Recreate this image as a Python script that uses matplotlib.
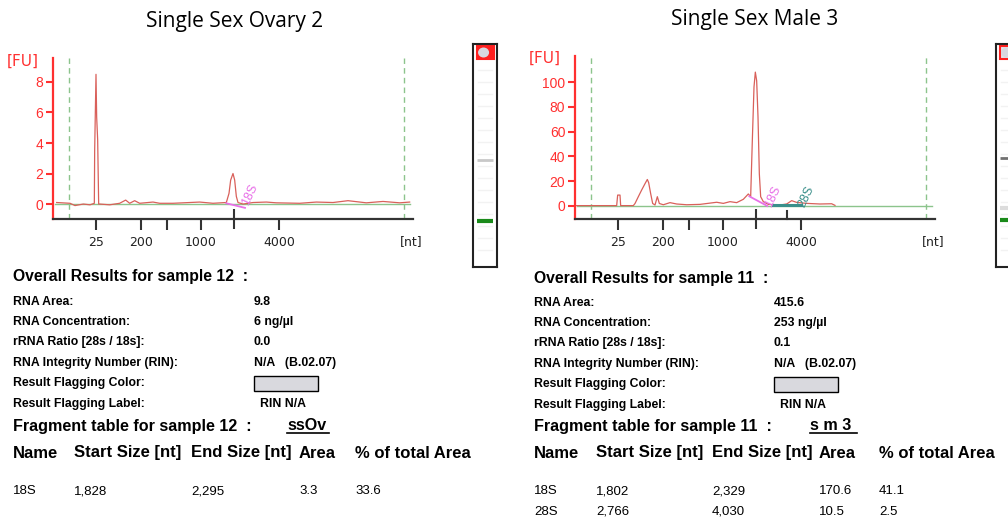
import matplotlib
matplotlib.use("Agg")
import matplotlib.pyplot as plt
from matplotlib.patches import Rectangle, Ellipse
from matplotlib.transforms import blended_transform_factory

plt.rcParams["font.family"] = ["Liberation Sans", "DejaVu Sans"]

# migration time [s] vs fluorescence [FU]
ovary_time = [17.55, 19.55, 20.3, 21.55, 22.55, 23.2, 23.25, 23.45, 23.55, 23.7, 23.85,
              24.0, 25.5, 27.0, 27.9, 28.5, 29.25, 30.0, 32.0, 33.0, 35.0, 37.5, 39.0,
              41.0, 43.0, 43.4, 43.65, 44.0, 44.25, 44.5, 44.75, 45.5, 47.0, 49.0, 50.5,
              54.0, 56.5, 59.0, 61.25, 64.0, 66.5, 69.0, 70.5]
ovary_fu = [0.1, 0.05, -0.1, 0.0, -0.05, 0.05, 3.5, 8.5, 5.7, 4.2, 0.0,
            0.0, -0.05, 0.05, 0.26, 0.05, 0.22, 0.05, 0.13, 0.05, 0.05, 0.1, 0.13,
            0.05, 0.1, 0.7, 1.57, 2.0, 1.57, 0.5, 0.1, 0.0, 0.1, 0.13, 0.08,
            0.05, 0.13, 0.1, 0.22, 0.08, 0.17, 0.08, 0.13]

male_time = [17.25, 23.25, 23.4, 23.75, 23.85, 25.75, 26.0, 26.5, 27.0, 27.5, 27.85,
             28.05, 28.35, 28.65, 29.0, 29.35, 29.65, 30.25, 31.25, 32.25, 33.75, 35.75,
             38.25, 39.25, 40.25, 41.25, 42.25, 43.0, 43.35, 43.6, 43.85, 44.05, 44.25,
             44.45, 44.65, 44.85, 45.25, 46.0, 47.75, 48.75, 49.5, 50.25, 51.75, 53.75,
             55.5, 56.0]
male_fu = [0.3, 0.3, 8.8, 8.8, 0.3, 0.3, 2.0, 7.5, 12.9, 18.0, 21.4,
           18.8, 10.0, 2.0, 0.8, 7.5, 2.0, 1.0, 2.7, 1.6, 1.0, 1.3,
           3.0, 2.1, 3.5, 2.7, 5.4, 9.7, 7.5, 53.0, 96.0, 108.0, 101.0,
           72.0, 26.0, 7.5, 3.5, 1.3, 0.8, 1.6, 4.3, 2.9, 2.1, 1.6,
           1.8, 0.5]

ladder_time = [23.5, 30.2, 34.1, 39.2, 50.9]
ladder_labels = ["25", "200", "", "1000", "4000"]
marker_window = [19.4, 69.65]

ovary_frag_names = ["18S"]
ovary_frag_time = [[43.0, 45.8]]
ovary_frag_fu = [[0.05, -0.25]]
male_frag_names = ["18S", "28S"]
male_frag_time = [[43.15, 45.85], [46.65, 50.9]]
male_frag_fu = [[7.8, 0.0], [1.0, 1.0]]

result_labels = ["RNA Area:", "RNA Concentration:", "rRNA Ratio [28s / 18s]:",
                 "RNA Integrity Number (RIN):", "Result Flagging Color:",
                 "Result Flagging Label:"]
ovary_results = ["9.8", "6 ng/µl", "0.0", "N/A   (B.02.07)", "", "RIN N/A"]
male_results = ["415.6", "253 ng/µl", "0.1", "N/A   (B.02.07)", "", "RIN N/A"]

table_header = ["Name", "Start Size [nt]", "End Size [nt]", "Area", "% of total Area"]
ovary_table = [["18S", "1,828", "2,295", "3.3", "33.6"]]
male_table = [["18S", "1,802", "2,329", "170.6", "41.1"],
              ["28S", "2,766", "4,030", "10.5", "2.5"]]

W, H = 1008, 522
fig = plt.figure(figsize=(W / 100, H / 100), dpi=100)

RED = "#ff3030"
TRACE = "#d9605a"
GREEN = "#8cc48c"
MAGENTA = "#e870e8"
TEAL = "#3a8f8a"
frag_colors = [MAGENTA, TEAL]


def ax_at(x0, y0, x1, y1):
    return fig.add_axes([x0 / W, 1 - y1 / H, (x1 - x0) / W, (y1 - y0) / H])


def t(x, y, s, **kw):
    fig.text(x / W, 1 - y / H, s, va="center", **kw)


def electropherogram(x0, y0, x1, y1, time, fu, ylim, yticks, frags_t, frags_fu,
                     frag_names, trace_end, extra_tick=None):
    ax = ax_at(x0, y0, x1, y1)
    ax.set_xlim(17, 71)
    ax.set_ylim(*ylim)
    ax.patch.set_alpha(0)
    for s in ["top", "right"]:
        ax.spines[s].set_visible(False)
    ax.spines["left"].set_color(RED)
    ax.spines["left"].set_linewidth(1.6)
    ax.spines["bottom"].set_color("#333333")
    ax.spines["bottom"].set_linewidth(1.6)
    ax.set_yticks(yticks)
    ax.tick_params(axis="y", colors=RED, labelsize=10, width=1.5, length=5, pad=2)
    ax.set_xticks(ladder_time)
    ax.set_xticklabels(ladder_labels, family=["DejaVu Sans"])
    ax.tick_params(axis="x", colors="#333333", labelcolor="#222222", labelsize=9,
                   width=1.5, length=8, pad=4)
    ax.set_xticks([44.2], minor=True)
    ax.tick_params(axis="x", which="minor", direction="inout", length=15, width=1.5,
                   colors="#333333")
    for xv in marker_window:
        ax.axvline(xv, color=GREEN, ls=(0, (4, 3)), lw=1.0)
    base = ylim[1] * 0.003
    ax.plot([17.3, trace_end], [base, base], color=GREEN, lw=1.0)
    ax.plot(time, fu, color=TRACE, lw=0.9)
    for i, name in enumerate(frag_names):
        ax.plot(frags_t[i], frags_fu[i], color=frag_colors[i], lw=1.3 if i == 0 else 2.2)
        ax.text(frags_t[i][1] + 0.8, (ylim[1] - ylim[0]) * 0.06, name,
                color=frag_colors[i], rotation=65, fontsize=9, ha="center", va="center")
    if extra_tick is not None:
        tr = blended_transform_factory(ax.transData, ax.transAxes)
        ax.plot([extra_tick, extra_tick], [0, 0.05], color="#333333", lw=1.5,
                transform=tr, clip_on=False)
    return ax


TITLE_FONT = ["Open Sans", "DejaVu Sans"]

# ---- left: ovary ----
t(235, 22, "Single Sex Ovary 2", ha="center", fontsize=15, family=TITLE_FONT)
electropherogram(53, 58, 413, 219, ovary_time, ovary_fu, (-0.98, 9.57), [0, 2, 4, 6, 8],
                 ovary_frag_time, ovary_frag_fu, ovary_frag_names, 70.5)
t(7, 61, "[FU]", color=RED, fontsize=11, family=["DejaVu Sans"])
t(400, 242, "[nt]", fontsize=9, color="#222222", family=["DejaVu Sans"])

# ---- right: male ----
t(755, 20, "Single Sex Male 3", ha="center", fontsize=15, family=TITLE_FONT)
electropherogram(575, 56, 935, 219, male_time, male_fu, (-10.5, 121),
                 [0, 20, 40, 60, 80, 100], male_frag_time, male_frag_fu, male_frag_names,
                 70.5, extra_tick=48.8)
t(529, 58, "[FU]", color=RED, fontsize=11, family=["DejaVu Sans"])
t(922, 242, "[nt]", fontsize=9, color="#222222", family=["DejaVu Sans"])


# ---- gel strips ----
def gel(x0, x1, red_fill, bands):
    g = ax_at(x0, 44, x1, 267)
    g.set_xlim(0, 1)
    g.set_ylim(267, 44)
    g.set_xticks([])
    g.set_yticks([])
    for s in g.spines.values():
        s.set_linewidth(1.5)
        s.set_color("#222222")
    g.add_patch(Rectangle((0.17, 46), 0.72, 13, facecolor="#ff2020" if red_fill else "#e4e4ea",
                          edgecolor="#ff2020", lw=1.5))
    g.add_patch(Ellipse((0.44, 52.5), 0.46, 10, facecolor="#d8d8e0", edgecolor="none"))
    for yb in range(70, 260, 12):
        g.plot([0.2, 0.8], [yb, yb], color="#f2f2f2", lw=1)
    for yb, col, lw in bands:
        g.plot([0.15, 0.85], [yb, yb], color=col, lw=lw, solid_capstyle="butt")


gel(473, 497, True, [(160, "#c8c8c8", 2), (221, "#1a8a1a", 3)])
gel(996, 1020, False, [(158, "#707070", 2), (208, "#dcdcdc", 3), (220, "#1a8a1a", 3)])


# ---- text blocks ----
row_y = [302, 322, 342, 363, 383, 404]


def report(xl, xv, sample, results, tag, tag_x, table, cols, ydelta):
    t(xl, 277 + ydelta, f"Overall Results for sample {sample}  :", fontsize=11.3,
      weight="bold")
    for i, (lab, val) in enumerate(zip(result_labels, results)):
        y = row_y[i] + ydelta
        t(xl, y, lab, fontsize=8.8, weight="bold")
        if lab.startswith("Result Flagging Color"):
            fig.patches.append(Rectangle((xv / W, 1 - (y + 8) / H), 64 / W, 15 / H,
                                         transform=fig.transFigure, facecolor="#d9d9de",
                                         edgecolor="black", lw=1.0))
        elif lab.startswith("Result Flagging Label"):
            t(xv + 6, y, val, fontsize=8.8, weight="bold")
        else:
            t(xv, y, val, fontsize=8.8, weight="bold")
    t(xl, 426 + ydelta, f"Fragment table for sample {sample}  :", fontsize=11.6,
      weight="bold")
    t(tag_x[0], 425 + ydelta, tag, fontsize=11.6, weight="bold")
    fig.add_artist(plt.Line2D([tag_x[0] / W, tag_x[1] / W], [1 - 433 / H, 1 - 433 / H],
                              color="black", lw=1.2))
    for c, h in zip(cols, table_header):
        t(c, 453, h, fontsize=12, weight="bold")
    for r, row in enumerate(table):
        for c, v in zip(cols, row):
            t(c, 491 + 21 * r, v, fontsize=9.5)


report(13, 254, 12, ovary_results, "ssOv", (287, 329), ovary_table,
       [13, 74, 191, 299, 355], 0)
report(534, 774, 11, male_results, "s m 3", (810, 857), male_table,
       [534, 596, 712, 819, 879], 1)

fig.savefig("out.png", dpi=100)
